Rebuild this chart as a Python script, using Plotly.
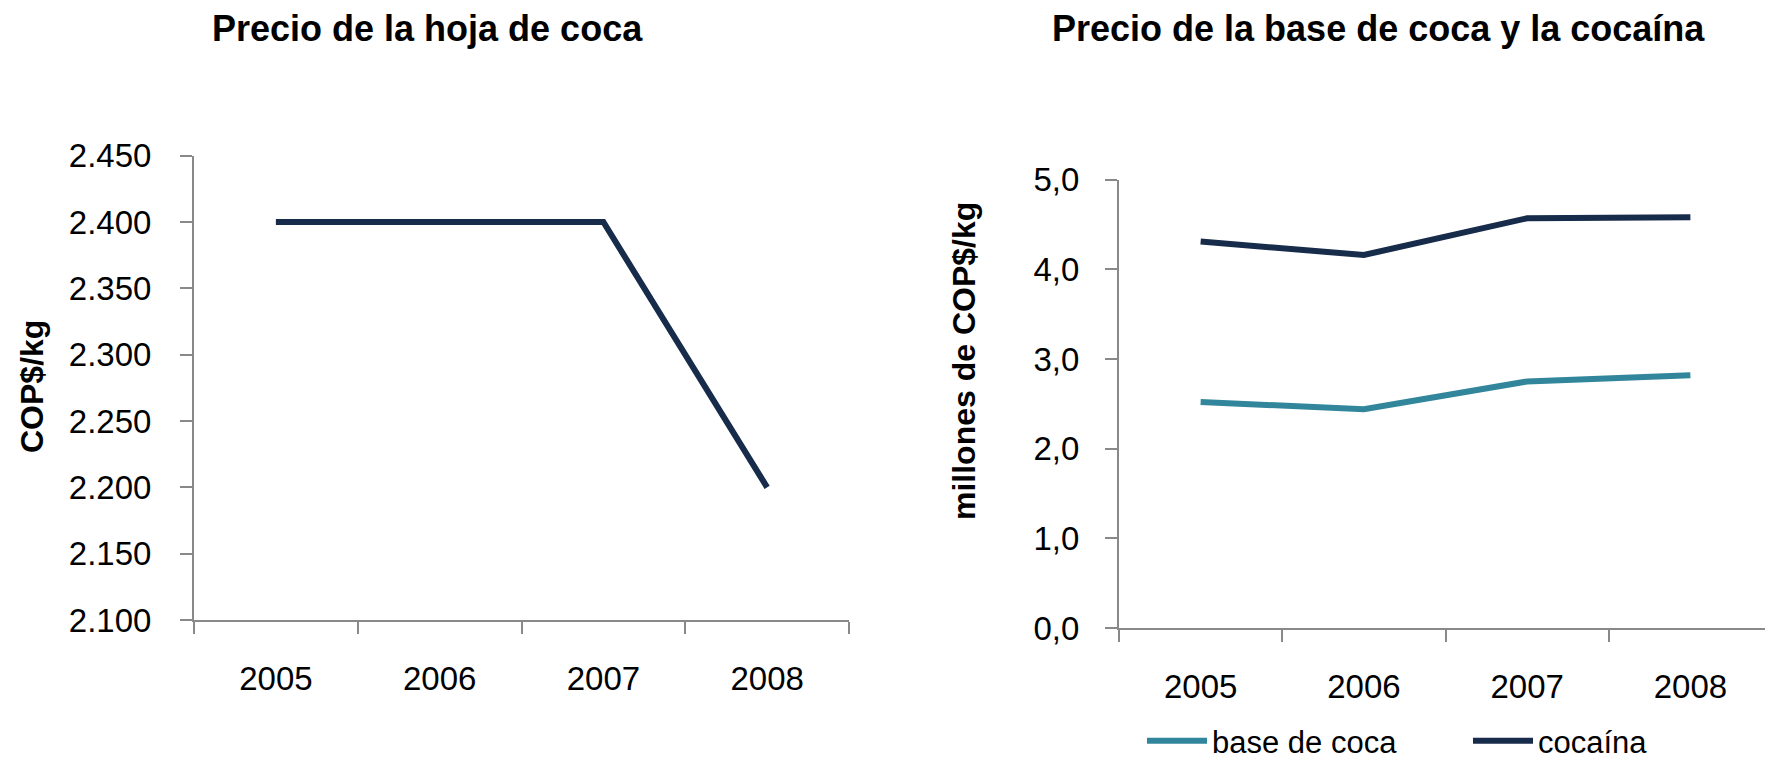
import plotly.graph_objects as go

years = ["2005", "2006", "2007", "2008"]
hoja = [2400, 2400, 2400, 2200]
base_coca = [2.52, 2.44, 2.75, 2.82]
cocaina = [4.31, 4.16, 4.57, 4.58]

W, H = 1773, 763
OFF = 8  # default page body margin
NAVY = "#172b4a"
TEAL = "#31869b"
AXIS = "#898989"
FONT = "Liberation Sans, Arial, sans-serif"
LW = 6

def px(x):
    return (x - OFF) / W

def py(y):
    return 1 - (y - OFF) / H

fig = go.Figure()
fig.add_trace(go.Scatter(x=years, y=hoja, mode="lines", line=dict(color=NAVY, width=LW),
                         showlegend=False, xaxis="x", yaxis="y"))
fig.add_trace(go.Scatter(x=years, y=base_coca, mode="lines", name="base de coca",
                         line=dict(color=TEAL, width=LW), xaxis="x2", yaxis="y2"))
fig.add_trace(go.Scatter(x=years, y=cocaina, mode="lines", name="cocaína",
                         line=dict(color=NAVY, width=LW), xaxis="x2", yaxis="y2"))

xcommon = dict(type="category", range=[-0.5, 3.5], tickson="boundaries", showline=True,
               linecolor=AXIS, linewidth=2, ticks="outside", ticklen=12, tickcolor=AXIS,
               tickwidth=2, showgrid=False, zeroline=False, automargin=False,
               tickfont=dict(family=FONT, size=33, color="black"), ticklabelstandoff=28)
ycommon = dict(showline=True, linecolor=AXIS, linewidth=2, ticks="outside", ticklen=12,
               tickcolor=AXIS, tickwidth=2, showgrid=False, zeroline=False, automargin=False,
               tickfont=dict(family=FONT, size=33, color="black"))

fig.update_layout(
    width=W, height=H, margin=dict(l=0, r=0, t=0, b=0, autoexpand=False),
    paper_bgcolor="white", plot_bgcolor="white",
    separators=",.",
    xaxis=dict(domain=[px(194), px(849)], anchor="y", **xcommon),
    yaxis=dict(domain=[py(620), py(155.7)], anchor="x", range=[2100, 2450], dtick=50,
               tickformat=",.0f", ticklabelstandoff=22, **ycommon),
    xaxis2=dict(domain=[px(1119), min(1.0, px(1772))], anchor="y2", **xcommon),
    yaxis2=dict(domain=[py(628), py(179.7)], anchor="x2", range=[0, 5], dtick=1,
                tickformat=".1f", ticklabelstandoff=19, **ycommon),
    legend=dict(orientation="h", x=px(1142), y=py(741), xanchor="left", yanchor="middle",
                font=dict(family=FONT, size=31, color="black"), entrywidth=251, itemwidth=60,
                bgcolor="rgba(0,0,0,0)"),
    annotations=[
        dict(text="<b>Precio de la hoja de coca</b>", x=px(427), y=py(28), xref="paper", yref="paper",
             showarrow=False, xanchor="center", yanchor="middle",
             font=dict(family=FONT, size=36, color="black")),
        dict(text="<b>Precio de la base de coca y la cocaína</b>", x=px(1378), y=py(28), xref="paper",
             yref="paper", showarrow=False, xanchor="center", yanchor="middle",
             font=dict(family=FONT, size=36, color="black")),
        dict(text="<b>COP$/kg</b>", x=px(32), y=py(387), xref="paper", yref="paper", showarrow=False,
             textangle=-90, xanchor="center", yanchor="middle",
             font=dict(family=FONT, size=32, color="black")),
        dict(text="<b>millones de COP$/kg</b>", x=px(964), y=py(361), xref="paper", yref="paper",
             showarrow=False, textangle=-90, xanchor="center", yanchor="middle",
             font=dict(family=FONT, size=32, color="black")),
    ],
)

fig.write_html("out.html")
